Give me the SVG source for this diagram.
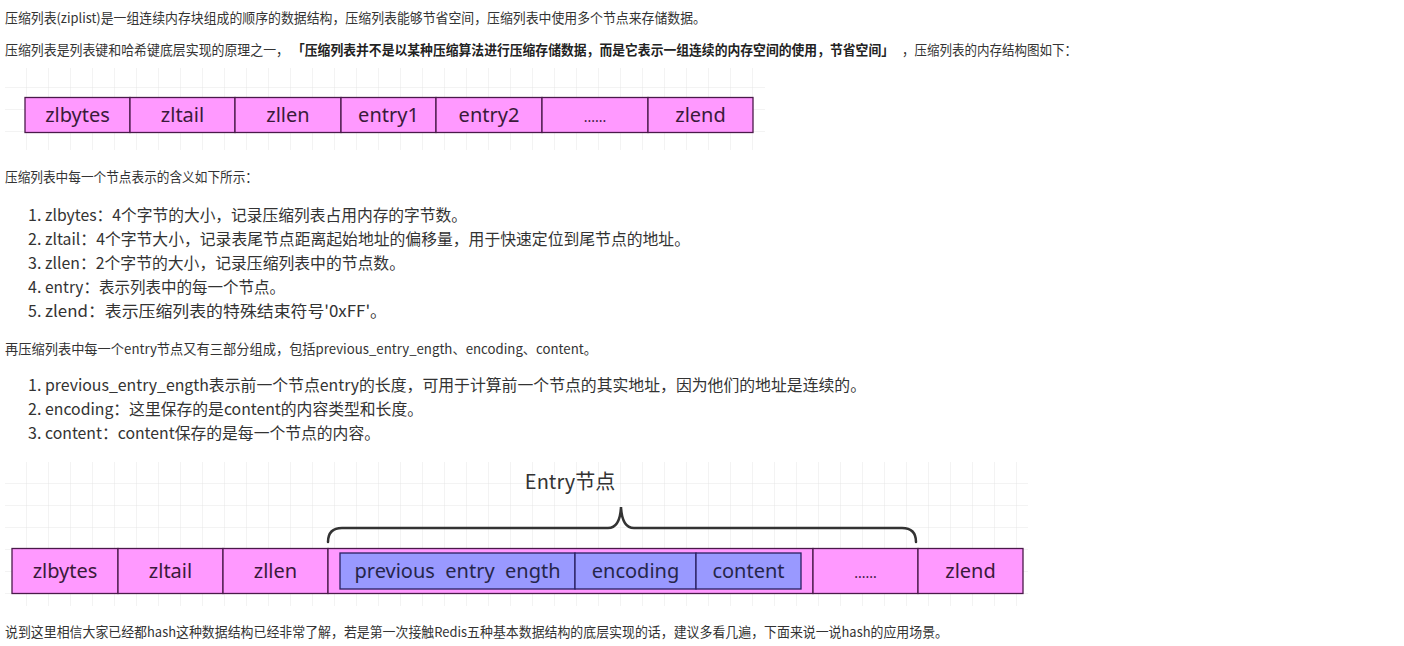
<svg xmlns="http://www.w3.org/2000/svg" width="1404" height="646" viewBox="0 0 1404 646">
<defs>
<pattern id="grid" x="5" y="0" width="22" height="22" patternUnits="userSpaceOnUse">
<path d="M22 0V22M0 22H22" fill="none" stroke="#e6e6e6" stroke-width="1"/>
</pattern>
<style>
.p{font-family:"Noto Sans CJK SC","Noto Sans",sans-serif;font-size:13.3px;fill:#333}
.b{font-weight:bold;fill:#222}
.li{font-family:"Noto Sans CJK SC","Noto Sans",sans-serif;font-size:16px;fill:#333}
.pk{fill:#ff99ff;stroke:#4a1a4a;stroke-width:1.3}
.bl{fill:#9999ff;stroke:#2a2060;stroke-width:1.3}
.t{font-family:"Noto Sans","Open Sans",sans-serif;font-size:20px;fill:#3a1a3a;text-anchor:middle}
.tb{font-family:"Noto Sans","Open Sans",sans-serif;font-size:20px;fill:#26264a;text-anchor:middle}
.dot{font-size:14px}
</style>
</defs>
<rect width="1404" height="646" fill="#ffffff"/>

<text class="p" x="5" y="23" textLength="701" lengthAdjust="spacingAndGlyphs">压缩列表(ziplist)是一组连续内存块组成的顺序的数据结构，压缩列表能够节省空间，压缩列表中使用多个节点来存储数据。</text>
<text class="p" x="5" y="55" textLength="284" lengthAdjust="spacingAndGlyphs">压缩列表是列表键和哈希键底层实现的原理之一，</text>
<text class="p b" x="292" y="55" textLength="602" lengthAdjust="spacingAndGlyphs">「压缩列表并不是以某种压缩算法进行压缩存储数据，而是它表示一组连续的内存空间的使用，节省空间」</text>
<text class="p" x="902" y="55" textLength="175" lengthAdjust="spacingAndGlyphs">，压缩列表的内存结构图如下：</text>

<rect x="5" y="68" width="760" height="82" fill="url(#grid)"/>
<g id="d1-zlbytes"><rect class="pk" x="25" y="97.5" width="105" height="35"/><text class="t" x="77.5" y="122">zlbytes</text></g>
<g id="d1-zltail"><rect class="pk" x="130" y="97.5" width="105" height="35"/><text class="t" x="182.5" y="122">zltail</text></g>
<g id="d1-zllen"><rect class="pk" x="235" y="97.5" width="106" height="35"/><text class="t" x="288" y="122">zllen</text></g>
<g id="d1-entry1"><rect class="pk" x="341" y="97.5" width="95" height="35"/><text class="t" x="388.5" y="122">entry1</text></g>
<g id="d1-entry2"><rect class="pk" x="436" y="97.5" width="106" height="35"/><text class="t" x="489" y="122">entry2</text></g>
<g id="d1-dots"><rect class="pk" x="542" y="97.5" width="106" height="35"/><text class="t dot" x="595" y="122">......</text></g>
<g id="d1-zlend"><rect class="pk" x="648" y="97.5" width="105" height="35"/><text class="t" x="700.5" y="122">zlend</text></g>

<text class="p" x="5" y="182" textLength="253" lengthAdjust="spacingAndGlyphs">压缩列表中每一个节点表示的含义如下所示：</text>

<text class="li" x="28" y="221">1.</text><text class="li" x="45" y="221" textLength="422" lengthAdjust="spacingAndGlyphs">zlbytes：4个字节的大小，记录压缩列表占用内存的字节数。</text>
<text class="li" x="28" y="245">2.</text><text class="li" x="45" y="245" textLength="645" lengthAdjust="spacingAndGlyphs">zltail：4个字节大小，记录表尾节点距离起始地址的偏移量，用于快速定位到尾节点的地址。</text>
<text class="li" x="28" y="269">3.</text><text class="li" x="45" y="269" textLength="360" lengthAdjust="spacingAndGlyphs">zllen：2个字节的大小，记录压缩列表中的节点数。</text>
<text class="li" x="28" y="293">4.</text><text class="li" x="45" y="293" textLength="240" lengthAdjust="spacingAndGlyphs">entry：表示列表中的每一个节点。</text>
<text class="li" x="28" y="317">5.</text><text class="li" x="45" y="317" textLength="342" lengthAdjust="spacingAndGlyphs">zlend：表示压缩列表的特殊结束符号'0xFF'。</text>

<text class="p" x="5" y="354" textLength="592" lengthAdjust="spacingAndGlyphs">再压缩列表中每一个entry节点又有三部分组成，包括previous_entry_ength、encoding、content。</text>

<text class="li" x="28" y="391">1.</text><text class="li" x="45" y="391" textLength="821" lengthAdjust="spacingAndGlyphs">previous_entry_ength表示前一个节点entry的长度，可用于计算前一个节点的其实地址，因为他们的地址是连续的。</text>
<text class="li" x="28" y="415">2.</text><text class="li" x="45" y="415" textLength="378" lengthAdjust="spacingAndGlyphs">encoding：这里保存的是content的内容类型和长度。</text>
<text class="li" x="28" y="439">3.</text><text class="li" x="45" y="439" textLength="335" lengthAdjust="spacingAndGlyphs">content：content保存的是每一个节点的内容。</text>

<rect x="5" y="462" width="1023" height="144" fill="url(#grid)"/>
<text x="570" y="489" font-family="Noto Sans CJK SC,Noto Sans,sans-serif" font-size="20" fill="#333" text-anchor="middle">Entry节点</text>

<g id="connectors">
<path d="M328 542 Q328 528 342 528 H608 Q620 528 621 507 Q622 528 634 528 H902 Q916 528 916 542" fill="none" stroke="#333" stroke-width="2.5" stroke-linecap="round"/>
</g>

<g id="d2-zlbytes"><rect class="pk" x="12" y="548.5" width="106" height="45"/><text class="t" x="65" y="578">zlbytes</text></g>
<g id="d2-zltail"><rect class="pk" x="118" y="548.5" width="105" height="45"/><text class="t" x="170.5" y="578">zltail</text></g>
<g id="d2-zllen"><rect class="pk" x="223" y="548.5" width="105" height="45"/><text class="t" x="275.5" y="578">zllen</text></g>
<g id="d2-entry">
<rect class="pk" x="328" y="548.5" width="485" height="45"/>
<g id="d2-prev"><rect class="bl" x="340" y="553" width="235" height="36"/><text class="tb" x="457.5" y="578" xml:space="preserve">previous  entry  ength</text></g>
<g id="d2-encoding"><rect class="bl" x="575" y="553" width="121" height="36"/><text class="tb" x="635.5" y="578">encoding</text></g>
<g id="d2-content"><rect class="bl" x="696" y="553" width="105" height="36"/><text class="tb" x="748.5" y="578">content</text></g>
</g>
<g id="d2-dots"><rect class="pk" x="813" y="548.5" width="105" height="45"/><text class="t dot" x="865.5" y="578">......</text></g>
<g id="d2-zlend"><rect class="pk" x="918" y="548.5" width="105" height="45"/><text class="t" x="970.5" y="578">zlend</text></g>

<text class="p" x="5" y="637" textLength="943" lengthAdjust="spacingAndGlyphs">说到这里相信大家已经都hash这种数据结构已经非常了解，若是第一次接触Redis五种基本数据结构的底层实现的话，建议多看几遍，下面来说一说hash的应用场景。</text>
</svg>
